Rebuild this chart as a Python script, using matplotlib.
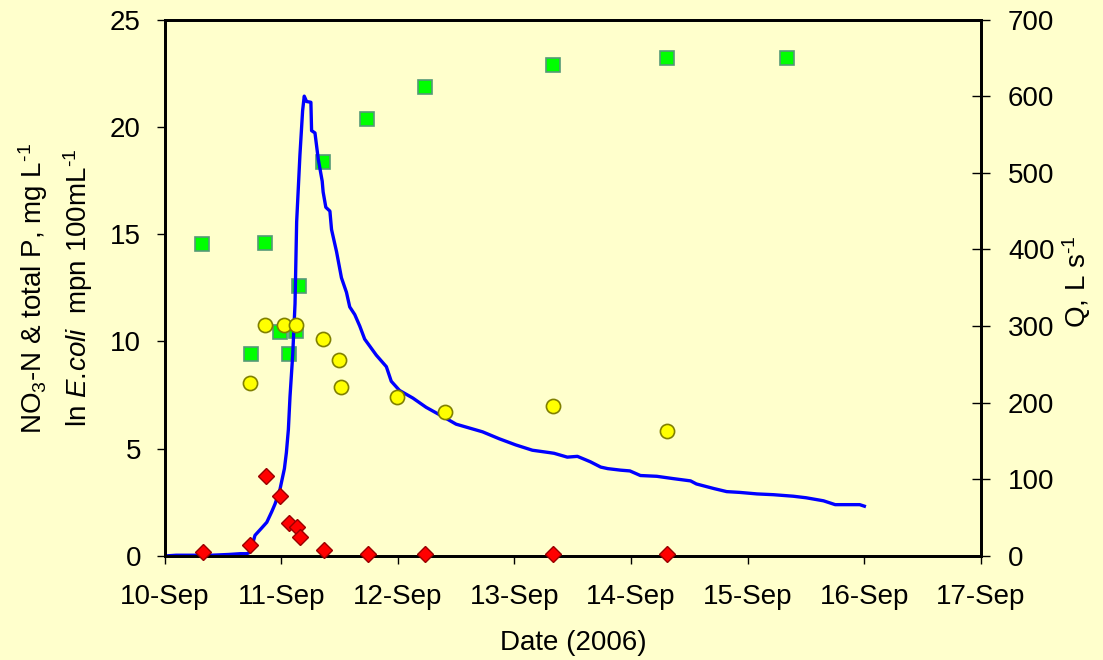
import matplotlib
matplotlib.use("Agg")
import matplotlib.pyplot as plt
import numpy as np

plt.rcParams["font.family"] = ["Liberation Sans", "DejaVu Sans"]
plt.rcParams["mathtext.fontset"] = "custom"
plt.rcParams["mathtext.rm"] = "Liberation Sans"
plt.rcParams["mathtext.it"] = "Liberation Sans:italic"
plt.rcParams["mathtext.bf"] = "Liberation Sans:bold"

BG = "#FFFFCC"

# x values are days after 10-Sep-2006 00:00
date_labels = ["10-Sep", "11-Sep", "12-Sep", "13-Sep", "14-Sep", "15-Sep", "16-Sep", "17-Sep"]

# green squares (left axis, mg/L)
no3_day = [0.32, 0.74, 0.865, 0.99, 1.067, 1.127, 1.156, 1.358, 1.739, 2.232, 3.33, 4.31, 5.34]
no3_val = [14.53, 9.39, 14.58, 10.43, 9.39, 10.5, 12.58, 18.34, 20.35, 21.85, 22.9, 23.2, 23.2]

# yellow circles (left axis, ln E.coli)
ecoli_day = [0.736, 0.865, 1.028, 1.127, 1.358, 1.497, 1.509, 1.99, 2.408, 3.33, 4.31]
ecoli_val = [8.04, 10.78, 10.78, 10.78, 10.09, 9.13, 7.87, 7.40, 6.71, 7.0, 5.83]

# red diamonds (left axis, total P)
tp_day = [0.327, 0.737, 0.868, 0.993, 1.07, 1.136, 1.164, 1.364, 1.745, 2.237, 3.33, 4.31]
tp_val = [0.17, 0.52, 3.72, 2.80, 1.56, 1.35, 0.87, 0.29, 0.09, 0.09, 0.07, 0.07]

# discharge (right axis, L/s)
q_day = [0.00, 0.10, 0.25, 0.40, 0.55, 0.65, 0.706, 0.734, 0.776, 0.83, 0.877, 0.92,
         0.948, 0.99, 1.028, 1.045, 1.062, 1.076, 1.099, 1.119, 1.133, 1.161, 1.184,
         1.198, 1.218, 1.255, 1.261, 1.29, 1.318, 1.352, 1.36, 1.383, 1.418, 1.432,
         1.475, 1.517, 1.56, 1.588, 1.631, 1.674, 1.716, 1.759, 1.816, 1.902, 1.944,
         2.015, 2.13, 2.243, 2.385, 2.5, 2.727, 2.869, 3.01, 3.154, 3.296, 3.34,
         3.453, 3.54, 3.65, 3.74, 3.80, 3.91, 3.99, 4.08, 4.22, 4.36, 4.51, 4.56,
         4.71, 4.82, 4.93, 5.08, 5.22, 5.39, 5.50, 5.65, 5.75, 5.96, 6.00]
q_val = [0, 1, 1, 1, 2, 3, 3, 5, 27, 36, 44, 58,
         68, 87, 114, 135, 165, 208, 262, 329, 436, 523, 581,
         600, 593, 592, 555, 552, 518, 489, 475, 455, 450, 426,
         397, 363, 344, 325, 315, 300, 283, 274, 262, 247, 228,
         216, 206, 194, 182, 172, 162, 153, 145, 138, 135, 134,
         129, 130, 123, 116, 114, 112, 111, 105, 104, 101, 98, 94,
         88, 84, 83, 81, 80, 78, 76, 72, 67, 67, 65]

fig = plt.figure(figsize=(11.03, 6.6), dpi=100, facecolor=BG)
ax = fig.add_axes([164.5 / 1103, 1 - 556 / 660, (981 - 164.5) / 1103, (556 - 19.5) / 660])
ax.set_facecolor(BG)
ax2 = ax.twinx()

ax.plot(no3_day, no3_val, ls="none", marker="s", ms=10, mfc="#00FF00",
        mec="#559977", mew=1.2, clip_on=False, zorder=3)
ax2.plot(q_day, q_val, color="#0000FF", lw=2.4, zorder=2)
ax2.plot(ecoli_day, ecoli_val, ls="none", marker="o", ms=10.2, mfc="#FFFF00",
         mec="#808000", mew=1.2, transform=ax.transData, clip_on=False, zorder=3)
ax2.plot(tp_day, tp_val, ls="none", marker="D", ms=8.6, mfc="#FF0000",
         mec="#990000", mew=1.0, transform=ax.transData, clip_on=False, zorder=4)

ax.set_xlim(0, 7)
ax.set_ylim(0, 25)
ax2.set_ylim(0, 700)
ax.set_xticks(range(len(date_labels)))
ax.set_xticklabels(date_labels)
ax.set_yticks(range(0, 26, 5))
ax2.set_yticks(range(0, 701, 100))

for a in (ax, ax2):
    for s in a.spines.values():
        s.set_linewidth(2)
        s.set_color("black")

ax.tick_params(axis="x", direction="out", length=6, width=1, pad=14, labelsize=20)
ax.tick_params(axis="y", direction="out", length=6, width=1, pad=11, labelsize=20)
ax2.tick_params(axis="y", direction="inout", length=13, width=1, pad=13, labelsize=20)

fig.text(33 / 1103, 1 - 288 / 660, r"NO$_3$-N & total P, mg L$^{\text{-}1}$",
         rotation=90, ha="center", va="center", fontsize=20)
fig.text(78 / 1103, 1 - 288 / 660, r"ln $\mathit{E.\!coli}$  mpn 100mL$^{\text{-}1}$",
         rotation=90, ha="center", va="center", fontsize=20)
fig.text(1077 / 1103, 1 - 282 / 660, r"Q, L s$^{\text{-}1}$",
         rotation=90, ha="center", va="center", fontsize=20)
fig.text(573.7 / 1103, 1 - 643 / 660, "Date (2006)",
         ha="center", va="center", fontsize=20)

fig.savefig("out.png", dpi=100, facecolor=BG)
